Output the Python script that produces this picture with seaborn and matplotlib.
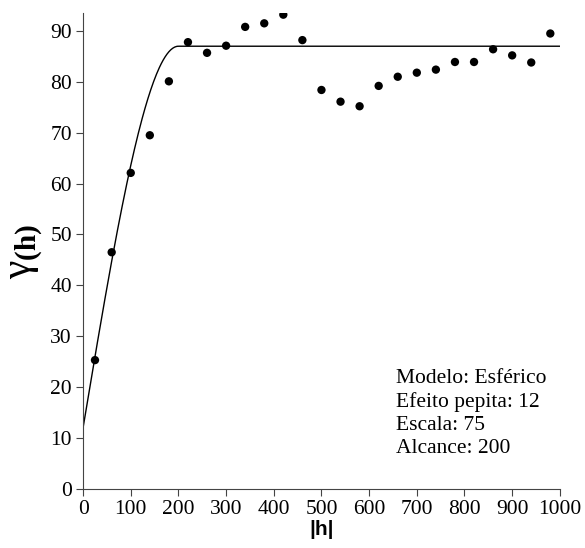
import numpy as np
import pandas as pd
import matplotlib.pyplot as plt
import seaborn as sns

lag = [25, 60, 100, 140, 180, 220, 260, 300, 340, 380, 420, 460,
       500, 540, 580, 620, 660, 700, 740, 780, 820, 860, 900, 940, 980]
gamma = [25.3, 46.5, 62.1, 69.5, 80.1, 87.8, 85.7, 87.1, 90.8, 91.5, 93.2, 88.2,
         78.4, 76.1, 75.2, 79.2, 81.0, 81.8, 82.4, 83.9, 83.9, 86.4, 85.2, 83.8, 89.5]

# Spherical model parameters (from the legend text)
NUGGET = 12
SCALE = 75
RANGE = 200

h = np.linspace(0, 1000, 501)
hr = np.minimum(h / RANGE, 1.0)
model = NUGGET + SCALE * (1.5 * hr - 0.5 * hr ** 3)

pts = pd.DataFrame({"lag": lag, "gamma": gamma})
curve = pd.DataFrame({"h": h, "model": model})

sns.set_theme(style="ticks")
plt.rcParams["font.family"] = ["Liberation Serif", "DejaVu Serif"]
plt.rcParams["text.color"] = "black"
plt.rcParams["axes.labelcolor"] = "black"
plt.rcParams["mathtext.fontset"] = "custom"
plt.rcParams["mathtext.rm"] = "Liberation Serif"
plt.rcParams["mathtext.bf"] = "Liberation Serif:bold"

fig = plt.figure(figsize=(5.85, 5.48), dpi=100, facecolor="white")
ax = fig.add_axes([0.142, 0.108, 0.815, 0.868])

sns.lineplot(data=curve, x="h", y="model", color="black", linewidth=1.0, ax=ax)
sns.scatterplot(data=pts, x="lag", y="gamma", color="black", s=36,
                edgecolor="none", ax=ax, zorder=3)

ax.set_xlim(0, 1000)
ax.set_ylim(0, 93.5)
ax.set_xticks(range(0, 1001, 100))
ax.set_yticks(range(0, 91, 10))
ax.tick_params(labelsize=15.5, length=5, width=0.8, color="#444444",
               labelcolor="black", pad=3)
for s in ["top", "right"]:
    ax.spines[s].set_visible(False)
for s in ["left", "bottom"]:
    ax.spines[s].set_linewidth(0.8)
    ax.spines[s].set_color("#444444")

ax.set_xlabel("|h|", fontsize=15, fontweight="bold", family="Liberation Sans",
              labelpad=1)
ax.set_ylabel(r"$\mathrm{\gamma}_{\mathbf{(h)}}$", fontsize=30, labelpad=4)

ax.text(657, 23.6,
        "Modelo: Esférico\nEfeito pepita: 12\nEscala: 75\nAlcance: 200",
        fontsize=15.5, va="top", ha="left", linespacing=1.28)

plt.savefig("out.png", dpi=100)
